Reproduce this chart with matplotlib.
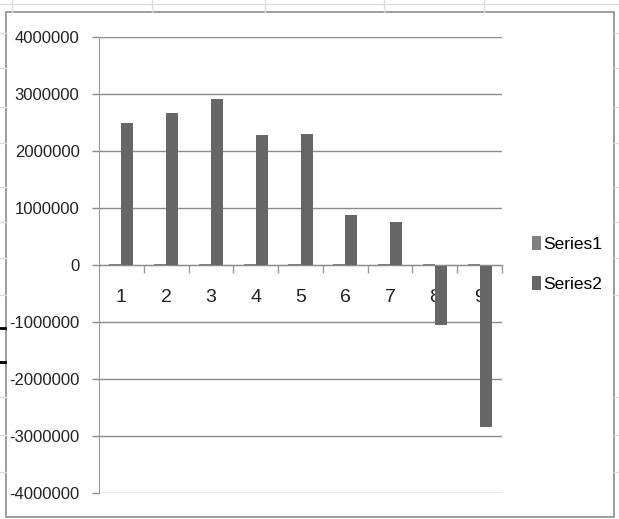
import matplotlib.pyplot as plt
from matplotlib import font_manager
from matplotlib.lines import Line2D
from matplotlib.patches import Rectangle

# Excel draws these labels in a narrow face; use one if it exists here
names = {f.name for f in font_manager.fontManager.ttflist}
if 'Liberation Sans Narrow' in names:
    plt.rcParams['font.family'] = ['Liberation Sans Narrow', 'DejaVu Sans']
    fs = 14
else:
    plt.rcParams['font.family'] = ['Liberation Sans', 'DejaVu Sans']
    fs = 12

categories = ['1', '2', '3', '4', '5', '6', '7', '8', '9']
series1 = [20000, 20000, 20000, 20000, 20000, 20000, 20000, 20000, 20000]
series2 = [2500000, 2670000, 2920000, 2280000, 2300000, 880000, 760000, -1060000, -2850000]
yticks = [-4000000, -3000000, -2000000, -1000000, 0, 1000000, 2000000, 3000000, 4000000]

W, H = 619, 519
fig = plt.figure(figsize=(W / 100, H / 100), dpi=100)

# spreadsheet cell lines behind the chart object
def fline(x0, y0, x1, y1, color='#dcdcdc', lw=1.0):
    fig.add_artist(Line2D([x0 / W, x1 / W], [1 - y0 / H, 1 - y1 / H], color=color, lw=lw))

fline(0, 4, W, 4)
for gx in [12, 152, 265, 384, 484]:
    fline(gx, 0, gx, 12)
for gy in [33, 68, 107, 143, 187, 222, 258, 295, 397, 435, 472]:
    fline(0, gy, 6, gy)
    fline(614, gy, W, gy)
fline(0, 328, 5, 328, color='black', lw=2)
fline(0, 362, 5, 362, color='black', lw=2)

# chart object border
fig.add_artist(Rectangle((6 / W, 1 - 517 / H), 608 / W, 505 / H, fill=False,
                         edgecolor='#8c8c8c', lw=1.2))

ax = fig.add_axes([99 / W, 1 - 493 / H, (502 - 99) / W, (493 - 37) / H])
ax.set_axisbelow(True)

x = list(range(len(categories)))
w = 0.268
b1 = ax.bar([i - w / 2 for i in x], series1, width=w, color='#808080', label='Series1')
b2 = ax.bar([i + w / 2 for i in x], series2, width=w, color='#666666', label='Series2')

ax.set_xlim(-0.5, len(categories) - 0.5)
ax.set_ylim(-4000000, 4000000)
ax.set_yticks(yticks)
ax.set_yticklabels([str(v) for v in yticks], fontsize=fs, color='#222222')
ax.yaxis.grid(True, color='#8a8a8a', lw=1.0)
ax.tick_params(axis='y', direction='out', length=5, width=1, color='#8a8a8a', pad=9)

for s in ['top', 'right']:
    ax.spines[s].set_visible(False)
ax.spines['left'].set_color('#9a9a9a')
ax.spines['bottom'].set_position(('data', 0))
ax.spines['bottom'].set_color('#8a8a8a')

ax.set_xticks(x)
ax.set_xticklabels(categories, fontsize=14, color='#222222')
ax.set_xticks([i + 0.5 for i in x], minor=True)
ax.tick_params(axis='x', which='major', length=0, pad=17)
ax.tick_params(axis='x', which='minor', direction='out', length=6, width=1, color='#9a9a9a')

ax.legend(handles=[b1, b2], loc='center left', bbox_to_anchor=(516 / W, 1 - 264 / H),
          bbox_transform=fig.transFigure, frameon=False, fontsize=12.5,
          handlelength=0.55, handleheight=0.9, handletextpad=0.12, labelspacing=1.35)

fig.savefig('out.png', dpi=100)
